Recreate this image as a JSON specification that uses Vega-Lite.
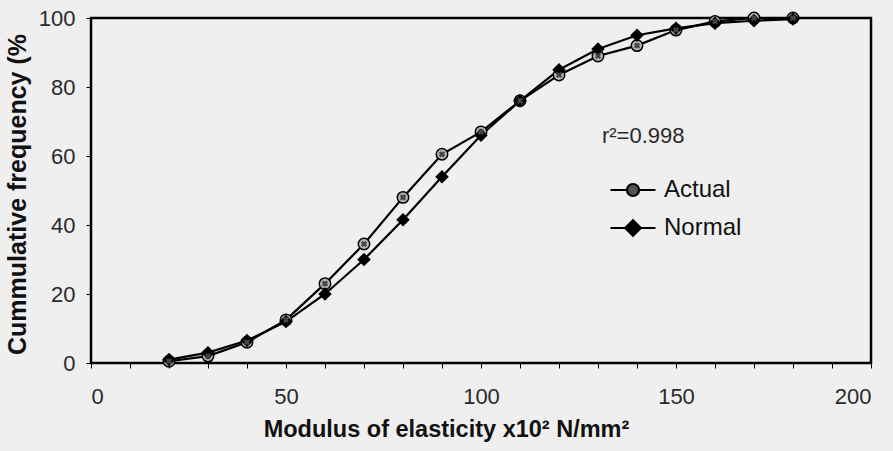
{
  "$schema": "https://vega.github.io/schema/vega-lite/v6.json",
  "width": 780,
  "height": 345,
  "autosize": {"type": "none"},
  "padding": {"left": 91, "top": 18, "right": 22, "bottom": 88},
  "background": "#efefef",
  "config": {
    "font": "Liberation Sans",
    "view": {"stroke": "black", "strokeWidth": 2.5, "fill": null}
  },
  "datasets": {
    "curves": [
      {"modulus": 20, "pct": 0.5, "series": "Actual"},
      {"modulus": 30, "pct": 2, "series": "Actual"},
      {"modulus": 40, "pct": 6, "series": "Actual"},
      {"modulus": 50, "pct": 12.5, "series": "Actual"},
      {"modulus": 60, "pct": 23, "series": "Actual"},
      {"modulus": 70, "pct": 34.5, "series": "Actual"},
      {"modulus": 80, "pct": 48, "series": "Actual"},
      {"modulus": 90, "pct": 60.5, "series": "Actual"},
      {"modulus": 100, "pct": 67, "series": "Actual"},
      {"modulus": 110, "pct": 76, "series": "Actual"},
      {"modulus": 120, "pct": 83.5, "series": "Actual"},
      {"modulus": 130, "pct": 89, "series": "Actual"},
      {"modulus": 140, "pct": 92, "series": "Actual"},
      {"modulus": 150, "pct": 96.5, "series": "Actual"},
      {"modulus": 160, "pct": 99, "series": "Actual"},
      {"modulus": 170, "pct": 100, "series": "Actual"},
      {"modulus": 180, "pct": 100, "series": "Actual"},
      {"modulus": 20, "pct": 1, "series": "Normal"},
      {"modulus": 30, "pct": 3, "series": "Normal"},
      {"modulus": 40, "pct": 6.5, "series": "Normal"},
      {"modulus": 50, "pct": 12, "series": "Normal"},
      {"modulus": 60, "pct": 20, "series": "Normal"},
      {"modulus": 70, "pct": 30, "series": "Normal"},
      {"modulus": 80, "pct": 41.5, "series": "Normal"},
      {"modulus": 90, "pct": 54, "series": "Normal"},
      {"modulus": 100, "pct": 66, "series": "Normal"},
      {"modulus": 110, "pct": 76, "series": "Normal"},
      {"modulus": 120, "pct": 85, "series": "Normal"},
      {"modulus": 130, "pct": 91, "series": "Normal"},
      {"modulus": 140, "pct": 95, "series": "Normal"},
      {"modulus": 150, "pct": 97, "series": "Normal"},
      {"modulus": 160, "pct": 98.5, "series": "Normal"},
      {"modulus": 170, "pct": 99.2, "series": "Normal"},
      {"modulus": 180, "pct": 99.7, "series": "Normal"}
    ],
    "notes": [
      {"modulus": 131, "pct": 65.8, "label": "r²=0.998"}
    ]
  },
  "encoding": {
    "x": {
      "field": "modulus", "type": "quantitative",
      "scale": {"domain": [0, 200], "nice": false, "zero": false},
      "axis": {
        "values": [0,10,20,30,40,50,60,70,80,90,100,110,120,130,140,150,160,170,180,190,200],
        "labelExpr": "datum.value % 50 === 0 ? datum.label : ''",
        "grid": false, "domain": false,
        "tickSize": 5, "tickColor": "black", "tickWidth": 1,
        "labelFontSize": 22, "labelColor": "#2a2a2a", "labelPadding": 18,
        "title": "Modulus of elasticity x10² N/mm²",
        "titleFontSize": 23.5, "titleFontWeight": "bold", "titleColor": "#111",
        "titleX": 355, "titleY": 73, "titleBaseline": "alphabetic"
      }
    },
    "y": {
      "field": "pct", "type": "quantitative",
      "scale": {"domain": [0, 100], "nice": false},
      "axis": {
        "values": [0, 20, 40, 60, 80, 100],
        "grid": false, "domain": false,
        "tickSize": 5, "tickColor": "black", "tickWidth": 1,
        "labelFontSize": 22, "labelColor": "#2a2a2a", "labelPadding": 11,
        "title": "Cummulative frequency (%",
        "titleFontSize": 25, "titleFontWeight": "bold", "titleColor": "#111",
        "titleX": -66, "titleY": 176, "titleBaseline": "alphabetic", "titleAlign": "center"
      }
    }
  },
  "layer": [
    {
      "data": {"name": "curves"},
      "mark": {"type": "line", "color": "black", "strokeWidth": 2.2},
      "encoding": {"detail": {"field": "series"}}
    },
    {
      "data": {"name": "curves"},
      "mark": {"type": "point", "filled": true, "stroke": "black", "strokeWidth": 1.5, "size": 130, "opacity": 1},
      "encoding": {
        "shape": {
          "field": "series", "type": "nominal",
          "scale": {"domain": ["Actual", "Normal"], "range": ["circle", "diamond"]},
          "legend": null
        },
        "fill": {
          "field": "series", "type": "nominal",
          "scale": {"domain": ["Actual", "Normal"], "range": ["#b5b5b5", "black"]},
          "legend": null
        }
      }
    },
    {
      "data": {"name": "curves"},
      "transform": [{"filter": "datum.series === 'Actual'"}],
      "mark": {"type": "point", "shape": "cross", "angle": 45, "filled": true, "color": "#444", "size": 40, "opacity": 1}
    },
    {
      "data": {"name": "notes"},
      "mark": {"type": "text", "align": "left", "baseline": "middle", "fontSize": 22, "color": "#2a2a2a"},
      "encoding": {"text": {"field": "label"}}
    },
    {
      "data": {"name": "curves"},
      "mark": {"type": "point", "filled": true, "stroke": "black", "strokeWidth": 2.2, "opacity": 0},
      "encoding": {
        "shape": {
          "field": "series", "type": "nominal",
          "scale": {"domain": ["Actual", "Normal"], "range": ["M-3.75,0H-1M1,0H3.75M1,0A1,1 0 1,1 -1,0A1,1 0 1,1 1,0Z", "M-3.75,0H-1.3M1.3,0H3.75M0,-1.3L1.3,0L0,1.3L-1.3,0Z"]},
          "legend": {
            "orient": "none", "legendX": 530, "legendY": 160,
            "title": null, "padding": 0,
            "labelFontSize": 24, "labelColor": "#111", "labelOffset": 19,
            "symbolSize": 144, "rowPadding": 13,
            "symbolOpacity": 1, "symbolStrokeColor": "black", "symbolStrokeWidth": 2.2,
            "encode": {"symbols": {"update": {"stroke": {"value": "black"}, "strokeWidth": {"value": 2.2}, "opacity": {"value": 1}}}}
          }
        },
        "fill": {
          "field": "series", "type": "nominal",
          "scale": {"domain": ["Actual", "Normal"], "range": ["#555555", "black"]},
          "legend": {
            "orient": "none", "legendX": 530, "legendY": 160,
            "title": null, "padding": 0,
            "labelFontSize": 24, "labelColor": "#111", "labelOffset": 19,
            "symbolSize": 144, "rowPadding": 13,
            "symbolOpacity": 1, "symbolStrokeColor": "black", "symbolStrokeWidth": 2.2,
            "encode": {"symbols": {"update": {"stroke": {"value": "black"}, "strokeWidth": {"value": 2.2}, "opacity": {"value": 1}}}}
          }
        }
      }
    }
  ],
  "resolve": {
    "scale": {"shape": "independent", "fill": "independent"},
    "legend": {"shape": "independent", "fill": "independent"}
  }
}
